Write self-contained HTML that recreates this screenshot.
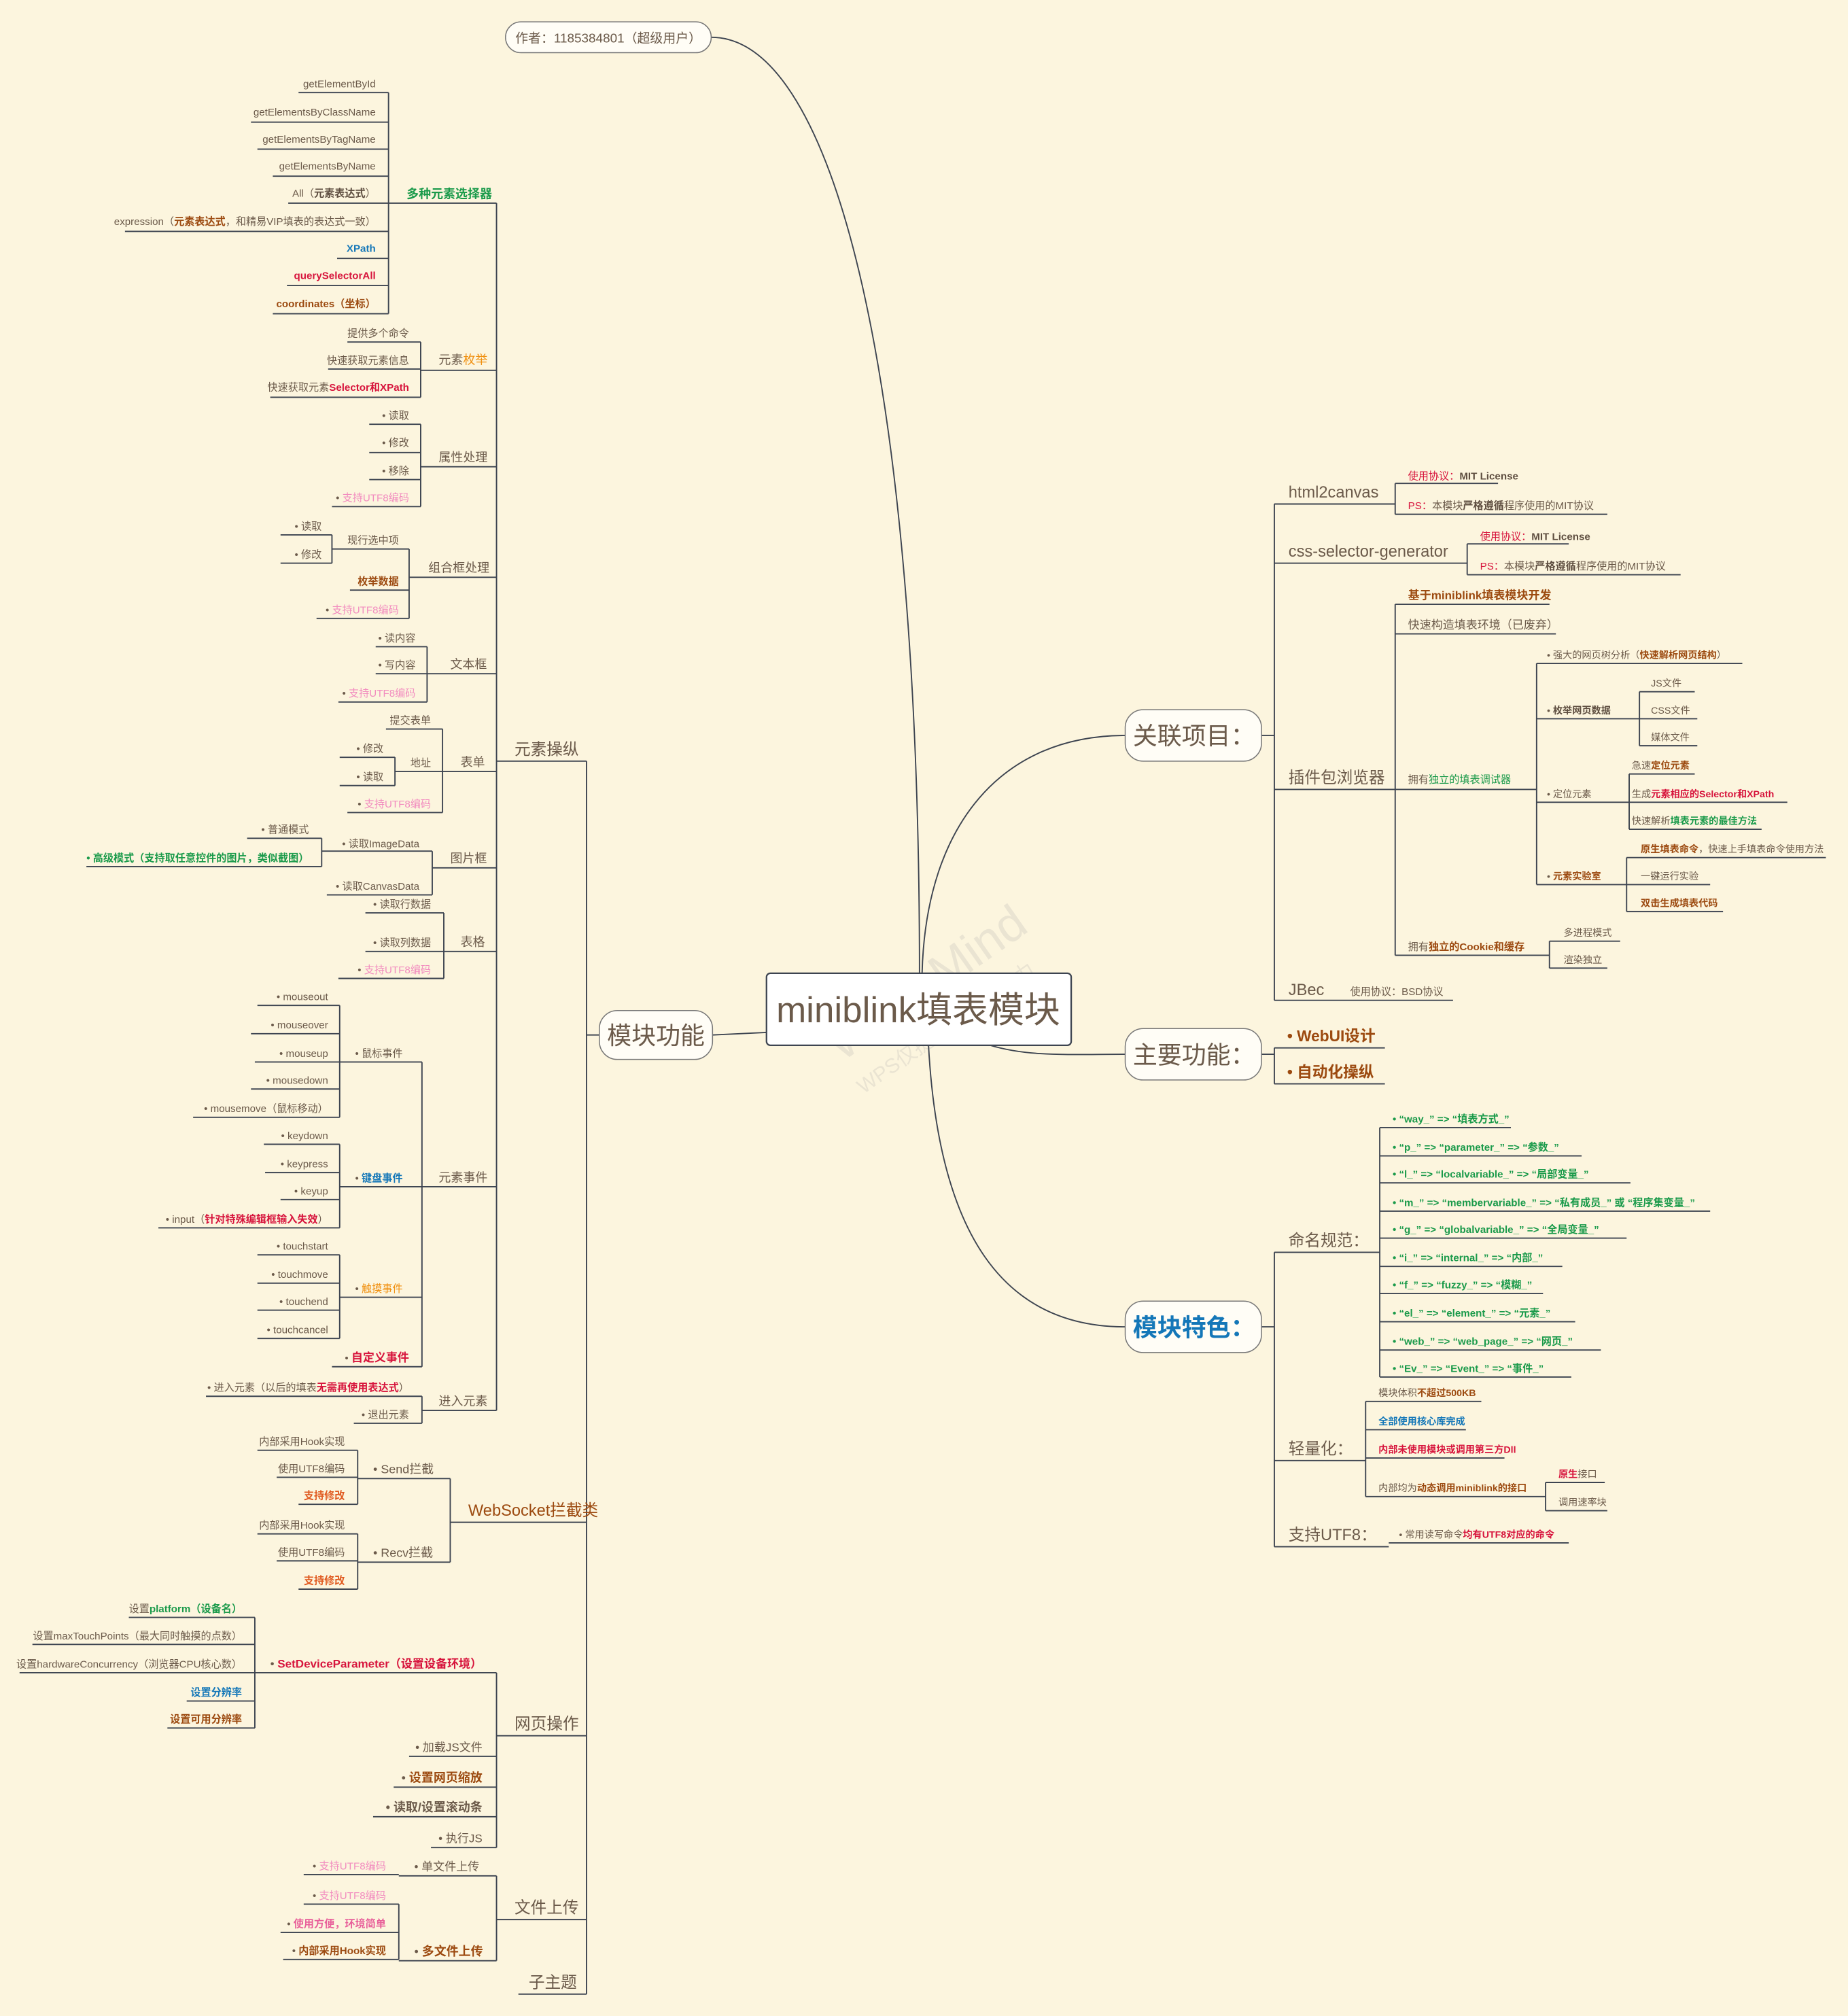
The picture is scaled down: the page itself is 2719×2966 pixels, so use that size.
<!DOCTYPE html>
<html><head><meta charset="utf-8">
<style>
html,body{margin:0;padding:0;background:#fcf5de;}
svg{display:block;}
text{font-family:"Liberation Sans","Noto Sans CJK SC",sans-serif;fill:#6b5a4a;}
.s{font-size:8px;}
.m{font-size:9.5px;}
.l{font-size:12.5px;}
.b{font-weight:bold;}
.g{fill:#1a9a4a;}
.r{fill:#d7143c;}
.u{fill:#1477b8;}
.o{fill:#9c4a10;}
.p{fill:#f28cbf;}
.y{fill:#f09010;}
.d{fill:#5e4e40;}
.e{text-anchor:end;}
</style></head>
<body>
<svg width="2719" height="2966" viewBox="0 0 1437 1568" xmlns="http://www.w3.org/2000/svg">
<rect width="1437" height="1568" fill="#fcf5de"/>
<text x="630" y="790" transform="rotate(-35 700 770)" style="font-size:38px;fill:#e6e0d0;opacity:0.8">WPS Mind</text>
<text x="630" y="820" transform="rotate(-35 700 770)" style="font-size:16px;fill:#e6e0d0;opacity:0.8">WPS仅提供制作图能力</text>

<g fill="none" stroke="#3d4450" stroke-width="1">
<path d="M232 72H302 M195 95H302 M200 116H302 M212 137H302 M224 158H302 M97 180H302 M262 201H302 M223 222H302 M212 244H302 M302 72V244 M302 158H386
M270 266H327 M255 287H327 M210 309H327 M327 266V309 M327 288H386
M287 330H327 M287 352H327 M287 373H327 M258 394H327 M327 330V394 M327 363H386
M218 416H258 M218 438H258 M258 416V438 M258 427H318 M272 459H318 M246 481H318 M318 427V481 M318 449H386
M292 503H332 M292 524H332 M263 546H332 M332 503V546 M332 524H386
M300 567H344 M264 589H307 M264 611H307 M307 589V611 M307 600H344 M270 632H344 M344 567V632 M344 600H386
M192 652H250 M67 674H250 M250 652V674 M250 662H336 M254 696H336 M336 662V696 M336 675H386
M284 710H345 M284 740H345 M263 761H345 M345 710V761 M345 740H386
M200 782H264 M195 804H264 M198 826H264 M195 847H264 M150 869H264 M264 782V869 M264 826H328
M205 890H264 M206 912H264 M218 933H264 M123 955H264 M264 890V955 M264 923H328
M200 976H264 M200 998H264 M200 1019H264 M200 1041H264 M264 976V1041 M264 1009H328
M258 1063H328 M328 826V1063 M328 923H386
M160 1086H328 M275 1107H328 M328 1086V1107 M328 1097H386
M386 158V1097 M386 592H456
M200 1128H278 M215 1149H278 M232 1170H278 M278 1128V1170 M278 1150H350 M200 1193H278 M215 1214H278 M232 1236H278 M278 1193V1236 M278 1215H350 M350 1150V1215 M350 1184H456
M100 1258H198 M25 1279H198 M15 1301H198 M145 1323H198 M130 1344H198 M198 1258V1344 M198 1301H386 M318 1366H386 M306 1390H386 M290 1413H386 M335 1437H386 M386 1301V1437 M386 1350H456
M236 1458H310 M310 1459H386 M236 1481H310 M218 1503H310 M220 1524H310 M310 1481V1524 M310 1525H386 M386 1459V1525 M386 1493H456
M403 1551H456 M456 592V1551 M456 805H466 M554 805L596 803
M981 572H991 M991 392V778
M991 392H1085 M1085 376H1165 M1085 400H1250 M1085 376V400
M991 438H1141 M1141 423H1220 M1141 447H1307 M1141 423V447
M991 614H1085 M1085 470V743 M1085 470H1205 M1085 493H1210 M1085 614H1195 M1195 516V688 M1195 516H1355 M1195 559H1275 M1275 538V580 M1275 538H1318 M1275 559H1320 M1275 580H1320 M1195 624H1267 M1267 602V645 M1267 602H1318 M1267 624H1390 M1267 645H1370 M1195 688H1265 M1265 667V709 M1265 667H1420 M1265 688H1330 M1265 709H1340 M1085 743H1205 M1205 732V753 M1205 732H1260 M1205 753H1250
M991 778H1045 M1045 778H1130
M981 820H991 M991 815V843 M991 815H1077 M991 843H1077
M981 1032H991 M991 974V1203 M991 974H1073 M1073 877V1071
M1073 877H1175 M1073 899H1230 M1073 920H1268 M1073 942H1330 M1073 963H1265 M1073 985H1215 M1073 1006H1200 M1073 1028H1225 M1073 1050H1245 M1073 1071H1222
M991 1136H1062 M1062 1090V1164 M1062 1090H1152 M1062 1112H1140 M1062 1134H1170 M1062 1164H1202 M1202 1153V1175 M1202 1153H1248 M1202 1175H1250
M991 1203H1080 M1080 1200H1220"/>
<path d="M715 757 C 715 300, 650 29, 553 29"/>
<path d="M717 757 C 720 640, 780 572, 875 572"/>
<path d="M770 813 C 800 822, 830 820, 875 820"/>
<path d="M722 813 C 730 960, 780 1032, 875 1032"/>
</g>

<rect x="393" y="17" width="160" height="24" rx="12" fill="#fffdf6" stroke="#777" stroke-width="0.8"/>
<text x="473" y="33" style="font-size:10px;text-anchor:middle">作者：1185384801（超级用户）</text>
<rect x="596" y="757" width="237" height="56" rx="3" fill="#fff" stroke="#3d4450" stroke-width="1.2"/>
<text x="714" y="795" style="font-size:28px;text-anchor:middle">miniblink填表模块</text>
<rect x="466" y="786" width="88" height="38" rx="14" fill="#fffdf6" stroke="#777" stroke-width="0.8"/>
<text x="510" y="812" style="font-size:19px;text-anchor:middle">模块功能</text>
<rect x="875" y="552" width="106" height="40" rx="14" fill="#fffdf6" stroke="#777" stroke-width="0.8"/>
<text x="881" y="579" style="font-size:19px">关联项目：</text>
<rect x="875" y="800" width="106" height="40" rx="14" fill="#fffdf6" stroke="#777" stroke-width="0.8"/>
<text x="881" y="827" style="font-size:19px">主要功能：</text>
<rect x="875" y="1012" width="106" height="40" rx="14" fill="#fffdf6" stroke="#777" stroke-width="0.8"/>
<text x="881" y="1039" style="font-size:19px;font-weight:bold;fill:#1477b8">模块特色：</text>

<g class="s">
<text class="s e" x="292" y="68">getElementById</text>
<text class="s e" x="292" y="90">getElementsByClassName</text>
<text class="s e" x="292" y="111">getElementsByTagName</text>
<text class="s e" x="292" y="132">getElementsByName</text>
<text class="s e" x="292" y="153">All（<tspan class="d b">元素表达式</tspan>）</text>
<text class="s e" x="292" y="175">expression（<tspan class="o b">元素表达式</tspan>，和精易VIP填表的表达式一致）</text>
<text class="s e b u" x="292" y="196">XPath</text>
<text class="s e b r" x="292" y="217">querySelectorAll</text>
<text class="s e b o" x="292" y="239">coordinates（坐标）</text>
<text class="m b g" x="316" y="154">多种元素选择器</text>

<text class="s e" x="318" y="262">提供多个命令</text>
<text class="s e" x="318" y="283">快速获取元素信息</text>
<text class="s e" x="318" y="304">快速获取元素<tspan class="r b">Selector和XPath</tspan></text>
<text class="m" x="341" y="283">元素<tspan class="y">枚举</tspan></text>

<text class="s e" x="318" y="326">• 读取</text>
<text class="s e" x="318" y="347">• 修改</text>
<text class="s e" x="318" y="369">• 移除</text>
<text class="s e" x="318" y="390">• <tspan class="p">支持UTF8编码</tspan></text>
<text class="m" x="341" y="359">属性处理</text>

<text class="s e" x="250" y="412">• 读取</text>
<text class="s e" x="250" y="434">• 修改</text>
<text class="s e" x="310" y="423">现行选中项</text>
<text class="s e b o" x="310" y="455">枚举数据</text>
<text class="s e" x="310" y="477">• <tspan class="p">支持UTF8编码</tspan></text>
<text class="m" x="333" y="445">组合框处理</text>

<text class="s e" x="323" y="499">• 读内容</text>
<text class="s e" x="323" y="520">• 写内容</text>
<text class="s e" x="323" y="542">• <tspan class="p">支持UTF8编码</tspan></text>
<text class="m" x="350" y="520">文本框</text>

<text class="s e" x="335" y="563">提交表单</text>
<text class="s e" x="298" y="585">• 修改</text>
<text class="s e" x="298" y="607">• 读取</text>
<text class="s e" x="335" y="596">地址</text>
<text class="s e" x="335" y="628">• <tspan class="p">支持UTF8编码</tspan></text>
<text class="m" x="358" y="596">表单</text>

<text class="s e" x="240" y="648">• 普通模式</text>
<text class="s e b g" x="240" y="670">• 高级模式（支持取任意控件的图片，类似截图）</text>
<text class="s e" x="326" y="659">• 读取ImageData</text>
<text class="s e" x="326" y="692">• 读取CanvasData</text>
<text class="m" x="350" y="671">图片框</text>

<text class="s e" x="335" y="706">• 读取行数据</text>
<text class="s e" x="335" y="736">• 读取列数据</text>
<text class="s e" x="335" y="757">• <tspan class="p">支持UTF8编码</tspan></text>
<text class="m" x="358" y="736">表格</text>

<text class="s e" x="255" y="778">• mouseout</text>
<text class="s e" x="255" y="800">• mouseover</text>
<text class="s e" x="255" y="822">• mouseup</text>
<text class="s e" x="255" y="843">• mousedown</text>
<text class="s e" x="255" y="865">• mousemove（鼠标移动）</text>
<text class="s" x="276" y="822">• 鼠标事件</text>
<text class="s e" x="255" y="886">• keydown</text>
<text class="s e" x="255" y="908">• keypress</text>
<text class="s e" x="255" y="929">• keyup</text>
<text class="s e" x="255" y="951">• input（<tspan class="r b">针对特殊编辑框输入失效</tspan>）</text>
<text class="s" x="276" y="919">• <tspan class="u b">键盘事件</tspan></text>
<text class="s e" x="255" y="972">• touchstart</text>
<text class="s e" x="255" y="994">• touchmove</text>
<text class="s e" x="255" y="1015">• touchend</text>
<text class="s e" x="255" y="1037">• touchcancel</text>
<text class="s" x="276" y="1005">• <tspan class="y">触摸事件</tspan></text>
<text class="s e" x="318" y="1059">• <tspan class="r b" style="font-size:9px">自定义事件</tspan></text>
<text class="m" x="341" y="919">元素事件</text>

<text class="s e" x="318" y="1082">• 进入元素（以后的填表<tspan class="r b">无需再使用表达式</tspan>）</text>
<text class="s e" x="318" y="1103">• 退出元素</text>
<text class="m" x="341" y="1093">进入元素</text>
<text class="l" x="400" y="587">元素操纵</text>

<text class="s e" x="268" y="1124">内部采用Hook实现</text>
<text class="s e" x="268" y="1145">使用UTF8编码</text>
<text class="s e b" x="268" y="1166" style="fill:#e05a20">支持修改</text>
<text class="m" x="290" y="1146">• Send拦截</text>
<text class="s e" x="268" y="1189">内部采用Hook实现</text>
<text class="s e" x="268" y="1210">使用UTF8编码</text>
<text class="s e b" x="268" y="1232" style="fill:#e05a20">支持修改</text>
<text class="m" x="290" y="1211">• Recv拦截</text>
<text class="l" x="364" y="1179" style="fill:#9c4a10">WebSocket拦截类</text>

<text class="s e" x="188" y="1254">设置<tspan class="g b">platform（设备名）</tspan></text>
<text class="s e" x="188" y="1275">设置maxTouchPoints（最大同时触摸的点数）</text>
<text class="s e" x="188" y="1297">设置hardwareConcurrency（浏览器CPU核心数）</text>
<text class="s e b u" x="188" y="1319">设置分辨率</text>
<text class="s e b o" x="188" y="1340">设置可用分辨率</text>
<text class="s" x="210" y="1297" style="font-size:9px">• <tspan class="r b">SetDeviceParameter（设置设备环境）</tspan></text>
<text class="s e" x="375" y="1362" style="font-size:9px">• 加载JS文件</text>
<text class="s e" x="375" y="1386" style="font-size:9.5px">• <tspan class="o b">设置网页缩放</tspan></text>
<text class="s e b" x="375" y="1409" style="font-size:9.5px">• 读取/设置滚动条</text>
<text class="s e" x="375" y="1433" style="font-size:9px">• 执行JS</text>
<text class="l" x="400" y="1345">网页操作</text>

<text class="s e" x="300" y="1454">• <tspan class="p">支持UTF8编码</tspan></text>
<text class="s" x="322" y="1455" style="font-size:9px">• 单文件上传</text>
<text class="s e" x="300" y="1477">• <tspan class="p">支持UTF8编码</tspan></text>
<text class="s e" x="300" y="1499">• <tspan class="p b" style="fill:#e8609a">使用方便，环境简单</tspan></text>
<text class="s e" x="300" y="1520">• <tspan class="o b">内部采用Hook实现</tspan></text>
<text class="s" x="322" y="1521" style="font-size:9.5px">• <tspan class="o b">多文件上传</tspan></text>
<text class="l" x="400" y="1488">文件上传</text>
<text class="l" x="411" y="1546">子主题</text>
</g>

<g class="s">
<text class="l" x="1002" y="387">html2canvas</text>
<text class="s r" x="1095" y="373">使用协议：<tspan class="d b">MIT License</tspan></text>
<text class="s r" x="1095" y="396">PS：<tspan style="fill:#6b5a4a">本模块</tspan><tspan class="d b">严格遵循</tspan><tspan style="fill:#6b5a4a">程序使用的MIT协议</tspan></text>
<text class="l" x="1002" y="433">css-selector-generator</text>
<text class="s r" x="1151" y="420">使用协议：<tspan class="d b">MIT License</tspan></text>
<text class="s r" x="1151" y="443">PS：<tspan style="fill:#6b5a4a">本模块</tspan><tspan class="d b">严格遵循</tspan><tspan style="fill:#6b5a4a">程序使用的MIT协议</tspan></text>
<text class="l" x="1002" y="609">插件包浏览器</text>
<text class="s b o" x="1095" y="466" style="font-size:9px">基于miniblink填表模块开发</text>
<text class="s" x="1095" y="489" style="font-size:9px">快速构造填表环境（已废弃）</text>
<text class="s" x="1095" y="609">拥有<tspan class="g">独立的填表调试器</tspan></text>
<text class="s" x="1203" y="512" style="font-size:7.5px">• 强大的网页树分析（<tspan class="o b">快速解析网页结构</tspan>）</text>
<text class="s" x="1203" y="555" style="font-size:7.5px">• <tspan class="d b">枚举网页数据</tspan></text>
<text class="s" x="1284" y="534" style="font-size:7.5px">JS文件</text>
<text class="s" x="1284" y="555" style="font-size:7.5px">CSS文件</text>
<text class="s" x="1284" y="576" style="font-size:7.5px">媒体文件</text>
<text class="s" x="1203" y="620" style="font-size:7.5px">• 定位元素</text>
<text class="s" x="1269" y="598" style="font-size:7.5px">急速<tspan class="o b">定位元素</tspan></text>
<text class="s" x="1269" y="620" style="font-size:7.5px">生成<tspan class="r b">元素相应的Selector和XPath</tspan></text>
<text class="s" x="1269" y="641" style="font-size:7.5px">快速解析<tspan class="g b">填表元素的最佳方法</tspan></text>
<text class="s" x="1203" y="684" style="font-size:7.5px">• <tspan class="o b">元素实验室</tspan></text>
<text class="s" x="1276" y="663" style="font-size:7.5px"><tspan class="o b">原生填表命令</tspan>，快速上手填表命令使用方法</text>
<text class="s" x="1276" y="684" style="font-size:7.5px">一键运行实验</text>
<text class="s b o" x="1276" y="705" style="font-size:7.5px">双击生成填表代码</text>
<text class="s" x="1095" y="739">拥有<tspan class="o b">独立的Cookie和缓存</tspan></text>
<text class="s" x="1216" y="728" style="font-size:7.5px">多进程模式</text>
<text class="s" x="1216" y="749" style="font-size:7.5px">渲染独立</text>
<text class="l" x="1002" y="774">JBec</text>
<text class="s" x="1050" y="774">使用协议：BSD协议</text>

<text class="s b o" x="1001" y="810" style="font-size:12px">• WebUI设计</text>
<text class="s b o" x="1001" y="838" style="font-size:12px">• 自动化操纵</text>

<text class="l" x="1002" y="969">命名规范：</text>
<text class="s b g" x="1083" y="873">•  “way_” =&gt; “填表方式_”</text>
<text class="s b g" x="1083" y="895">•  “p_” =&gt; “parameter_” =&gt; “参数_”</text>
<text class="s b g" x="1083" y="916">•  “l_” =&gt; “localvariable_” =&gt; “局部变量_”</text>
<text class="s b g" x="1083" y="938">•  “m_” =&gt; “membervariable_” =&gt; “私有成员_” 或 “程序集变量_”</text>
<text class="s b g" x="1083" y="959">•  “g_” =&gt; “globalvariable_” =&gt; “全局变量_”</text>
<text class="s b g" x="1083" y="981">•  “i_” =&gt; “internal_” =&gt; “内部_”</text>
<text class="s b g" x="1083" y="1002">•  “f_” =&gt; “fuzzy_” =&gt; “模糊_”</text>
<text class="s b g" x="1083" y="1024">•  “el_” =&gt; “element_” =&gt; “元素_”</text>
<text class="s b g" x="1083" y="1046">•  “web_” =&gt; “web_page_” =&gt; “网页_”</text>
<text class="s b g" x="1083" y="1067">•  “Ev_” =&gt; “Event_” =&gt; “事件_”</text>
<text class="l" x="1002" y="1131">轻量化：</text>
<text class="s" x="1072" y="1086" style="font-size:7.5px">模块体积<tspan class="o b">不超过500KB</tspan></text>
<text class="s b u" x="1072" y="1108" style="font-size:7.5px">全部使用核心库完成</text>
<text class="s b r" x="1072" y="1130" style="font-size:7.5px">内部未使用模块或调用第三方Dll</text>
<text class="s" x="1072" y="1160" style="font-size:7.5px">内部均为<tspan class="o b">动态调用miniblink的接口</tspan></text>
<text class="s" x="1212" y="1149" style="font-size:7.5px"><tspan class="r b">原生</tspan>接口</text>
<text class="s" x="1212" y="1171" style="font-size:7.5px">调用速率块</text>
<text class="l" x="1002" y="1198">支持UTF8：</text>
<text class="s" x="1088" y="1196" style="font-size:7.5px">• 常用读写命令<tspan class="r b">均有UTF8对应的命令</tspan></text>
</g>
</svg>
</body></html>
